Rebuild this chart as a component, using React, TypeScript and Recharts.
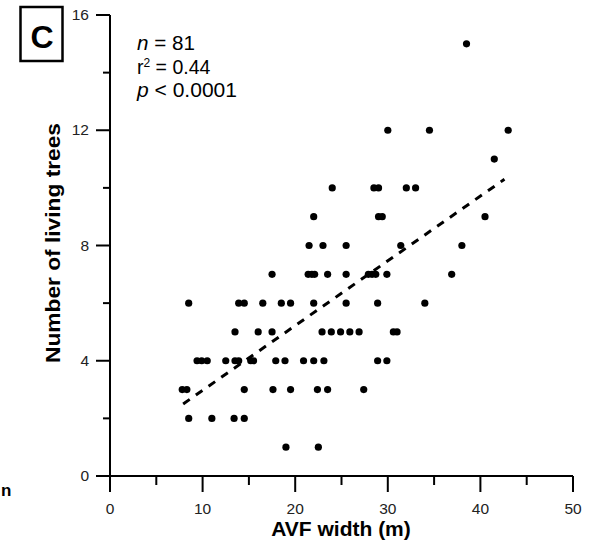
import { ScatterChart, Scatter, XAxis, YAxis, ReferenceLine } from "recharts";

// ─── Data ─────────────────────────────────────────────────────────────────────

// number of living trees (one row of dots per count)
const treeCounts = [1, 2, 3, 4, 5, 6, 7, 8, 9, 10, 11, 12, 15];

// AVF width (m) of every dot in each row above
const widthsByCount = [
  [19, 22.5],
  [8.5, 11, 13.4, 14.5],
  [7.8, 8.3, 14.5, 17.6, 19.5, 22.4, 23.5, 27.4],
  [9.4, 9.9, 10.5, 12.5, 13.5, 13.9, 15.2, 15.5, 17.9, 18.9, 20.9, 22.0, 23.1, 28.9, 29.9],
  [13.5, 16.0, 17.5, 22.9, 23.9, 24.9, 25.9, 26.9, 30.6, 31.0],
  [8.5, 13.9, 14.5, 16.5, 18.5, 19.5, 22.0, 25.5, 28.9, 34.0],
  [17.5, 21.4, 21.8, 22.1, 23.5, 25.5, 27.9, 28.3, 28.7, 29.9, 36.9],
  [21.5, 23.0, 25.5, 31.4, 38.0],
  [22.0, 29.0, 29.4, 40.5],
  [24.0, 28.5, 29.0, 32.0, 33.0],
  [41.5],
  [30.0, 34.5, 43.0],
  [38.5],
];

// ends of the dashed regression line
const fitWidth = [7.9, 42.6];
const fitTrees = [2.5, 10.3];

const xTicks = [0, 5, 10, 15, 20, 25, 30, 35, 40, 45, 50];
const yTicks = [0, 2, 4, 6, 8, 10, 12, 14, 16];

const points = treeCounts.flatMap((count, i) =>
  widthsByCount[i].map((w) => ({ width: w, trees: count }))
);

const FONT = '"Liberation Sans", Arial, Helvetica, sans-serif';

// ─── Ticks ────────────────────────────────────────────────────────────────────

function YTick({ x, y, payload }: any) {
  const v = payload.value;
  const major = v % 4 === 0;
  return (
    <g>
      <line x1={x - (major ? 14 : 7)} x2={x} y1={y} y2={y} stroke="#000" strokeWidth={2} />
      {major && (
        <text x={x - 21} y={y + 5} textAnchor="end" fontSize={15.5} fill="#222" fontFamily={FONT}>
          {v}
        </text>
      )}
    </g>
  );
}

function XTick({ x, y, payload }: any) {
  const v = payload.value;
  const major = v % 10 === 0;
  return (
    <g>
      <line x1={x} x2={x} y1={y} y2={y + (major ? 16 : 9)} stroke="#000" strokeWidth={2} />
      {major && (
        <text x={x} y={y + 38} textAnchor="middle" fontSize={15.5} fill="#222" fontFamily={FONT}>
          {v}
        </text>
      )}
    </g>
  );
}

function Dot({ cx, cy }: any) {
  return <circle cx={cx} cy={cy} r={3.6} fill="#000" />;
}

// ─── Component ────────────────────────────────────────────────────────────────

export default function App() {
  return (
    <div style={{ position: "absolute", left: 0, top: 0, width: 594, height: 543, background: "#fff", fontFamily: FONT }}>
      <ScatterChart width={594} height={543} margin={{ top: 15, right: 21, bottom: 0, left: 0 }}>
        <XAxis
          type="number"
          dataKey="width"
          domain={[0, 50]}
          ticks={xTicks}
          tick={<XTick />}
          tickSize={0}
          tickMargin={0}
          tickLine={false}
          axisLine={{ stroke: "#000", strokeWidth: 2 }}
          height={67}
          interval={0}
        />
        <YAxis
          type="number"
          dataKey="trees"
          domain={[0, 16]}
          ticks={yTicks}
          tick={<YTick />}
          tickSize={0}
          tickMargin={0}
          tickLine={false}
          axisLine={{ stroke: "#000", strokeWidth: 2 }}
          width={110}
          interval={0}
        />
        <ReferenceLine
          segment={[
            { x: fitWidth[0], y: fitTrees[0] },
            { x: fitWidth[1], y: fitTrees[1] },
          ]}
          stroke="#000"
          strokeWidth={3}
          strokeDasharray="8 7.5"
        />
        <Scatter data={points} shape={<Dot />} isAnimationActive={false} />
      </ScatterChart>

      {/* overlay: panel letter, stats, axis titles */}
      <svg width={594} height={543} style={{ position: "absolute", left: 0, top: 0, pointerEvents: "none" }}>
        <rect x={20.5} y={7} width={42} height={54} fill="none" stroke="#000" strokeWidth={2.5} />
        <text x={42} y={48} textAnchor="middle" fontSize={32} fontWeight="bold" fontFamily={FONT}>C</text>

        <text x={137} y={50} fontSize={19.5} fontFamily={FONT} textLength={58} lengthAdjust="spacingAndGlyphs">
          <tspan fontStyle="italic">n</tspan> = 81
        </text>
        <text x={137} y={74} fontSize={19.5} fontFamily={FONT}>
          r<tspan fontSize={12} dy={-7}>2</tspan><tspan dy={7}> = 0.44</tspan>
        </text>
        <text x={137} y={97} fontSize={19.5} fontFamily={FONT} textLength={100} lengthAdjust="spacingAndGlyphs">
          <tspan fontStyle="italic">p</tspan> &lt; 0.0001
        </text>

        <text
          x={0}
          y={0}
          transform="translate(60 243) rotate(-90)"
          textAnchor="middle"
          fontSize={21}
          fontWeight="bold"
          fontFamily={FONT}
          textLength={240}
          lengthAdjust="spacingAndGlyphs"
        >
          Number of living trees
        </text>
        <text x={341} y={536} textAnchor="middle" fontSize={21} fontWeight="bold" fontFamily={FONT}>
          AVF width (m)
        </text>

        <text x={1} y={496} fontSize={17} fontWeight="bold" fontFamily={FONT}>n</text>
      </svg>
    </div>
  );
}
